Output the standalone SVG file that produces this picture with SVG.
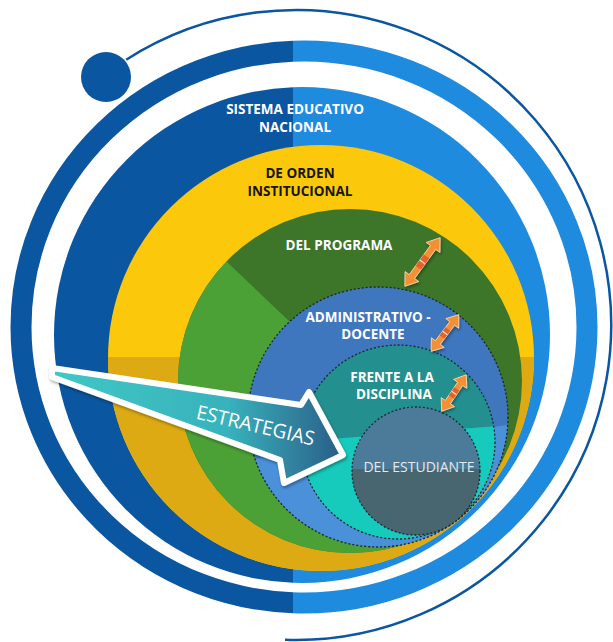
<svg xmlns="http://www.w3.org/2000/svg" width="613" height="642" viewBox="0 0 613 642">
<defs>
<style>
.lbl{font-family:"Open Sans","Liberation Sans",sans-serif;font-weight:700;font-size:13.5px;text-anchor:middle;fill:#fff}
.dk{fill:#161616}
.dot{fill:none;stroke:#1d2530;stroke-width:1.3;stroke-dasharray:2 2}
.oa{fill:#F39035;stroke:#ffd9b0;stroke-width:0.8}
.oam{fill:#E5602B}
.brk{stroke:#fde0c8;stroke-width:1.2}
</style>
<clipPath id="cL"><rect x="0" y="0" width="293" height="642"/></clipPath>
<clipPath id="cR"><rect x="293" y="0" width="320" height="642"/></clipPath>
<clipPath id="cY"><circle cx="321" cy="358" r="213"/></clipPath>
<clipPath id="cG"><circle cx="350" cy="381" r="172"/></clipPath>
<clipPath id="cB"><circle cx="378" cy="417" r="130"/></clipPath>
<clipPath id="cT"><circle cx="398" cy="442" r="97"/></clipPath>
<clipPath id="cE"><circle cx="416" cy="471" r="64"/></clipPath>
<linearGradient id="gA" x1="52" y1="0" x2="345" y2="0" gradientUnits="userSpaceOnUse">
<stop offset="0" stop-color="#3FC8C6"/><stop offset="0.6" stop-color="#38B2BC"/><stop offset="1" stop-color="#2A5B86"/>
</linearGradient>
<filter id="sh" x="-20%" y="-20%" width="140%" height="140%"><feDropShadow dx="1" dy="2" stdDeviation="1.5" flood-color="#000" flood-opacity="0.35"/></filter>
</defs>

<g id="orbit">
<path d="M126.2,59.8 A315,315 0 1 1 285,639.8" fill="none" stroke="#0B56A0" stroke-width="2.5"/>
<circle cx="106" cy="77" r="25" fill="#0B56A0"/>
</g>

<g id="ring-outer">
<ellipse cx="304" cy="327" rx="283" ry="276" fill="none" stroke="#0B56A0" stroke-width="21" clip-path="url(#cL)"/>
<ellipse cx="304" cy="327" rx="283" ry="276" fill="none" stroke="#1F8BDF" stroke-width="21" clip-path="url(#cR)"/>
</g>

<g id="sistema-educativo">
<circle cx="302" cy="335" r="248" fill="#0B56A0" clip-path="url(#cL)"/>
<circle cx="302" cy="335" r="248" fill="#1F8BDF" clip-path="url(#cR)"/>
<text class="lbl" x="295" y="114">SISTEMA EDUCATIVO</text>
<text class="lbl" x="295" y="132">NACIONAL</text>
</g>

<g id="orden-institucional">
<circle cx="321" cy="358" r="213" fill="#FCC80C"/>
<rect x="100" y="357" width="450" height="230" fill="#DDAA13" clip-path="url(#cY)"/>
<text class="lbl dk" x="300" y="178">DE ORDEN</text>
<text class="lbl dk" x="300" y="196">INSTITUCIONAL</text>
</g>

<g id="programa">
<circle cx="350" cy="381" r="172" fill="#3D7529"/>
<polygon points="150,189 600,616 150,616" fill="#4BA136" clip-path="url(#cG)"/>
<text class="lbl" x="339" y="250">DEL PROGRAMA</text>
</g>

<g id="administrativo-docente">
<circle cx="378" cy="417" r="130" fill="#3E77BD"/>
<polygon points="230,462 530,422 530,560 230,560" fill="#4A91DA" clip-path="url(#cB)"/>
<circle class="dot" cx="378" cy="417" r="130"/>
<text class="lbl" x="368" y="322">ADMINISTRATIVO -</text>
<text class="lbl" x="373" y="339">DOCENTE</text>
</g>

<g id="frente-disciplina">
<circle cx="398" cy="442" r="97" fill="#23908F"/>
<polygon points="290,442 510,425 510,560 290,560" fill="#16CABC" clip-path="url(#cT)"/>
<circle class="dot" cx="398" cy="442" r="97"/>
<text class="lbl" x="392" y="382">FRENTE A LA</text>
<text class="lbl" x="394" y="399">DISCIPLINA</text>
</g>

<g id="estudiante">
<circle cx="416" cy="471" r="64" fill="#4B7B99"/>
<rect x="350" y="469" width="135" height="70" fill="#47666F" clip-path="url(#cE)"/>
<circle class="dot" cx="416" cy="471" r="64"/>
<text x="419" y="472" text-anchor="middle" font-family="'Open Sans','Liberation Sans',sans-serif" font-size="14" fill="#E8E8E8">DEL ESTUDIANTE</text>
</g>

<g id="connectors" filter="url(#sh)">
<g transform="translate(422.5,262) rotate(-54)">
<path class="oa" d="M-30,0 L-18,-8.5 L-18,-3.3 L18,-3.3 L18,-8.5 L30,0 L18,8.5 L18,3.3 L-18,3.3 L-18,8.5 Z"/>
<rect class="oam" x="-7" y="-3.3" width="14" height="6.6"/>
<line class="brk" x1="0" y1="-3.3" x2="0" y2="3.3"/>
</g>
<g transform="translate(445,333) rotate(-53)">
<path class="oa" d="M-23,0 L-12,-8 L-12,-3 L12,-3 L12,-8 L23,0 L12,8 L12,3 L-12,3 L-12,8 Z"/>
<rect class="oam" x="-5" y="-3" width="10" height="6"/>
<line class="brk" x1="0" y1="-3" x2="0" y2="3"/>
</g>
<g transform="translate(454,393) rotate(-56)">
<path class="oa" d="M-22,0 L-11,-8 L-11,-3 L11,-3 L11,-8 L22,0 L11,8 L11,3 L-11,3 L-11,8 Z"/>
<rect class="oam" x="-5" y="-3" width="10" height="6"/>
<line class="brk" x1="0" y1="-3" x2="0" y2="3"/>
</g>
</g>

<g id="estrategias">
<path d="M52,368 L301,405 L309,392 L343,455 L284,483 L280,460 L52,377 Z" fill="url(#gA)" stroke="#fff" stroke-width="6" stroke-linejoin="round" filter="url(#sh)"/>
<text transform="translate(254,432) rotate(13)" text-anchor="middle" font-family="'Open Sans','Liberation Sans',sans-serif" font-size="19.5" fill="#fff">ESTRATEGIAS</text>
</g>
</svg>
